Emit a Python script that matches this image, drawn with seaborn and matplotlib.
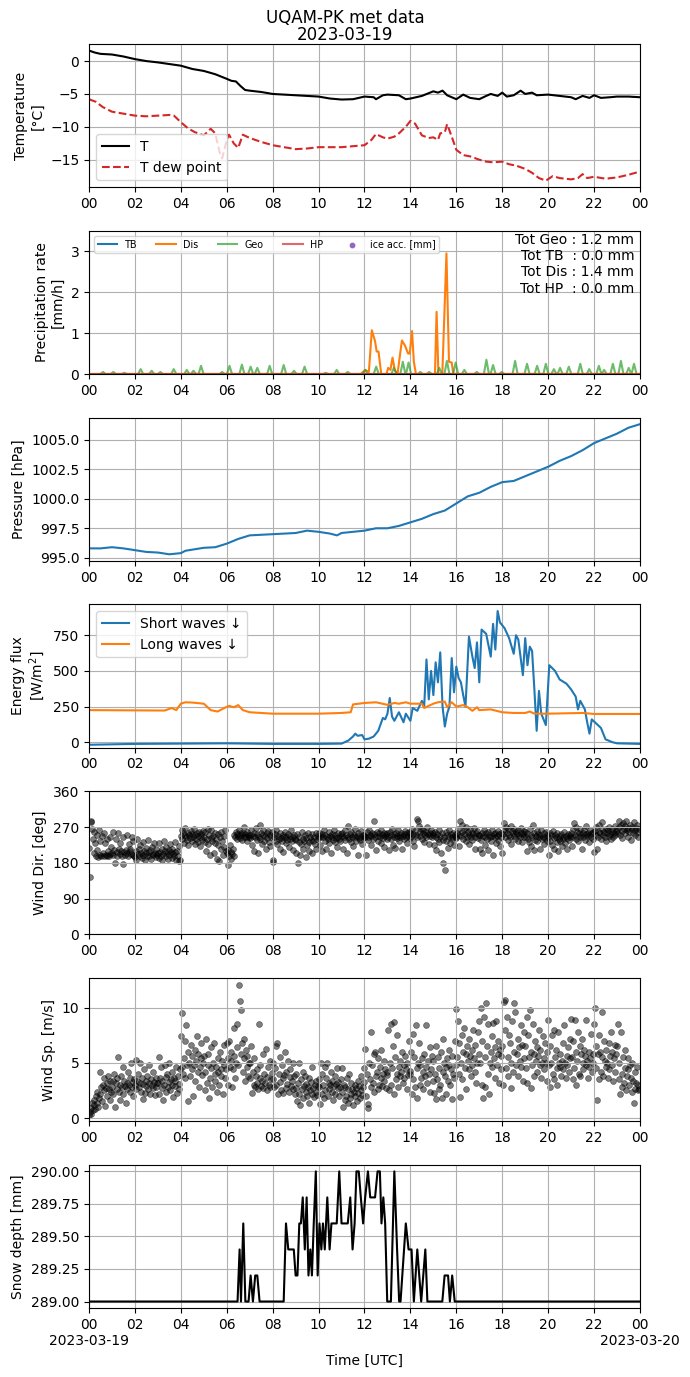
import numpy as np
import pandas as pd
import matplotlib
matplotlib.use('agg')
import matplotlib.pyplot as plt
import matplotlib.dates as mdates
from matplotlib.ticker import FuncFormatter
import seaborn as sns

DAY = pd.Timestamp('2023-03-19')

# --- temperature [degC] ---
t_hours = [0, 0.25, 0.5, 1, 1.5, 2, 2.5, 3, 3.5, 4, 4.5, 5, 5.5, 6, 6.2, 6.4, 6.6, 6.8, 7, 7.5,
           8, 9, 10, 10.5, 11, 11.5, 12, 12.4, 12.5, 12.8, 13, 13.5, 13.8, 14, 14.5, 15, 15.2,
           15.4, 15.6, 15.8, 16, 16.3, 16.6, 17, 17.3, 17.5, 17.8, 18, 18.2, 18.5, 18.8, 19,
           19.3, 19.5, 20, 20.5, 21, 21.2, 21.5, 21.8, 22, 22.3, 22.7, 23, 23.5, 24]
t_air = [1.6, 1.3, 1.1, 1.0, 0.7, 0.3, 0.0, -0.2, -0.45, -0.7, -1.2, -1.5, -2.0, -2.7, -3.0,
         -3.1, -3.8, -4.4, -4.5, -4.7, -5.0, -5.2, -5.4, -5.7, -5.85, -5.8, -5.4, -5.5, -5.8,
         -5.2, -5.1, -5.2, -5.8, -5.7, -5.3, -4.6, -4.8, -4.5, -5.2, -5.5, -5.8, -5.1, -5.6,
         -5.8, -5.3, -5.0, -5.3, -4.8, -5.4, -5.2, -4.5, -5.0, -4.8, -5.2, -5.1, -5.3, -5.5,
         -5.8, -5.3, -5.6, -5.2, -5.6, -5.5, -5.4, -5.4, -5.5]
td_hours = [0, 0.3, 0.6, 1, 1.5, 2, 2.5, 3, 3.5, 3.7, 4, 4.3, 4.6, 5, 5.3, 5.5, 5.7, 5.8, 6,
            6.1, 6.3, 6.5, 6.7, 7, 7.5, 8, 8.5, 9, 9.5, 10, 11, 12, 12.3, 12.5, 12.8, 13, 13.3,
            13.5, 13.8, 14, 14.2, 14.5, 14.8, 15, 15.2, 15.3, 15.5, 15.6, 15.8, 16, 16.3, 16.6,
            17, 17.3, 17.6, 18, 18.3, 18.6, 19, 19.3, 19.6, 19.9, 20.2, 20.5, 21, 21.3, 21.5,
            21.7, 22, 22.5, 23, 23.5, 24]
t_dew = [-5.8, -6.2, -7.0, -7.7, -8.0, -8.3, -8.4, -8.3, -8.2, -8.3, -9.3, -10.2, -10.8, -11.3,
         -10.3, -11.0, -14.0, -14.8, -12.0, -11.2, -12.5, -13.2, -11.2, -11.7, -12.3, -12.8,
         -13.1, -13.4, -13.3, -13.1, -13.1, -12.8, -12.0, -11.1, -11.6, -11.8, -11.5, -11.0,
         -10.0, -9.1, -9.5, -11.3, -11.7, -11.6, -12.0, -11.0, -10.8, -9.6, -11.5, -13.5,
         -14.3, -14.5, -15.0, -15.3, -15.4, -15.3, -15.7, -15.9, -16.4, -17.0, -17.8, -18.2,
         -17.5, -17.8, -18.0, -17.8, -17.2, -17.8, -17.6, -17.9, -17.7, -17.3, -16.8]

# --- precipitation rate [mm/h] ---
dis_hours = [0, 11.84, 12.03, 12.19, 12.32, 12.46, 12.53, 12.61, 12.73, 12.96, 13.03, 13.13,
             13.22, 13.32, 13.44, 13.53, 13.63, 13.76, 13.9, 13.97, 14.07, 14.15, 14.24, 15.07,
             15.14, 15.22, 15.39, 15.57, 15.68, 15.8, 15.87, 24]
dis_rate = [0, 0, 0.1, 0.05, 1.07, 0.8, 0.55, 0.55, 0, 0, 0.15, 0.1, 0.4, 0.1, 0, 0.4, 0.82,
            0.7, 0.5, 0.5, 1.05, 0.3, 0, 0, 1.52, 0, 0, 2.95, 0.3, 0.28, 0, 0]
geo_peak_hours = [0.61, 1.06, 1.54, 2.25, 2.73, 3.11, 3.69, 4.26, 4.55, 4.88, 5.8, 6.12, 6.66,
                  7.04, 7.33, 7.87, 8.48, 8.93, 9.39, 10.31, 10.79, 11.27, 12.03, 12.51, 13.28,
                  13.67, 13.92, 14.43, 14.82, 15.26, 15.59, 15.97, 16.35, 16.89, 17.31, 17.6,
                  17.98, 18.56, 19.08, 19.52, 19.9, 20.25, 20.52, 20.9, 21.4, 21.79, 22.21,
                  22.44, 22.82, 23.17, 23.51, 23.74]
geo_peak_rate = [0.05, 0.05, 0.03, 0.12, 0.08, 0.05, 0.12, 0.10, 0.08, 0.2, 0.05, 0.2, 0.23,
                 0.18, 0.15, 0.2, 0.22, 0.08, 0.18, 0.03, 0.1, 0.05, 0.1, 0.18, 0.15, 0.3, 0.28,
                 0.05, 0.05, 0.15, 0.32, 0.28, 0.1, 0.05, 0.35, 0.22, 0.05, 0.32, 0.25, 0.2,
                 0.25, 0.12, 0.15, 0.18, 0.25, 0.12, 0.2, 0.1, 0.25, 0.32, 0.15, 0.25]
tot_text = "Tot Geo : 1.2 mm\nTot TB  : 0.0 mm\nTot Dis : 1.4 mm\nTot HP  : 0.0 mm"

# --- pressure [hPa] ---
p_hours = [0, 0.5, 1, 1.5, 2, 2.5, 3, 3.5, 4, 4.2, 5, 5.5, 6, 6.5, 7, 8, 9, 9.5, 10, 10.5,
           10.8, 11, 12, 12.5, 13, 13.5, 14, 14.5, 15, 15.5, 16, 16.5, 17, 17.5, 18, 18.5, 19,
           19.5, 20, 20.5, 21, 21.5, 22, 22.5, 23, 23.5, 24]
pressure = [995.8, 995.8, 995.9, 995.8, 995.65, 995.5, 995.45, 995.3, 995.4, 995.6, 995.85,
            995.9, 996.2, 996.6, 996.9, 997.0, 997.1, 997.3, 997.2, 997.05, 996.9, 997.1,
            997.3, 997.5, 997.5, 997.7, 998.0, 998.3, 998.7, 999.0, 999.6, 1000.2, 1000.5,
            1001.0, 1001.4, 1001.5, 1001.9, 1002.3, 1002.7, 1003.2, 1003.6, 1004.1, 1004.7,
            1005.1, 1005.5, 1006.0, 1006.3]

# --- radiation [W/m2] ---
sw_hours = [0, 2, 4, 6, 8, 10, 11, 11.3, 11.5, 11.6, 11.7, 11.9, 12, 12.2, 12.4, 12.6, 12.8,
            12.9, 13, 13.1, 13.2, 13.3, 13.5, 13.7, 13.8, 14, 14.1, 14.3, 14.5, 14.6, 14.7,
            14.8, 14.9, 15.0, 15.1, 15.2, 15.3, 15.4, 15.5, 15.6, 15.7, 15.8, 15.9, 16.0, 16.1,
            16.2, 16.3, 16.4, 16.55, 16.7, 16.8, 16.9, 17.0, 17.1, 17.3, 17.5, 17.6, 17.7,
            17.8, 17.9, 18.1, 18.3, 18.5, 18.6, 18.7, 18.9, 19.0, 19.1, 19.2, 19.3, 19.4, 19.5,
            19.6, 19.7, 19.9, 20.05, 20.3, 20.5, 20.8, 21.0, 21.2, 21.3, 21.4, 21.6, 21.7,
            21.8, 21.9, 22.1, 22.3, 22.5, 22.8, 23, 24]
sw_down = [-18, -12, -10, -8, -12, -12, -10, 12, 40, 60, 45, 50, 20, 25, 40, 80, 170, 160, 200,
           310, 180, 150, 210, 140, 200, 150, 240, 220, 290, 250, 580, 300, 500, 330, 560, 420,
           630, 250, 110, 200, 250, 590, 350, 530, 450, 420, 330, 250, 740, 600, 520, 700, 420,
           790, 760, 600, 830, 650, 920, 840, 800, 730, 620, 750, 720, 470, 730, 540, 670, 640,
           370, 80, 360, 200, 120, 540, 500, 440, 410, 370, 320, 230, 290, 230, 140, 60, 160,
           130, 100, 20, 0, -8, -12]
lw_hours = [0, 3.3, 3.6, 3.8, 4.0, 4.2, 4.5, 5, 5.3, 5.6, 5.9, 6.1, 6.3, 6.5, 6.7, 7, 8, 10,
            11, 11.4, 11.5, 12, 12.5, 13, 13.3, 13.5, 13.8, 14, 14.5, 14.6, 15, 15.2, 15.5,
            15.6, 15.8, 16, 16.3, 16.5, 16.7, 16.9, 17, 17.5, 18, 18.5, 19, 19.2, 19.4, 20,
            21.5, 22, 24]
lw_down = [225, 222, 240, 225, 270, 280, 278, 270, 225, 215, 240, 255, 245, 260, 225, 210, 200,
           200, 205, 210, 265, 275, 280, 262, 275, 270, 280, 270, 270, 240, 270, 280, 285, 245,
           280, 250, 260, 245, 220, 245, 225, 230, 210, 205, 205, 215, 200, 200, 205, 198, 198]

# --- wind, one row per hour, one sample every 2 min ---
wind_dir = [
    [218, 145, 282, 286, 265, 240, 205, 258, 230, 198, 250, 212, 195, 262, 200, 235, 196, 248, 205, 198, 255, 230, 200, 196, 240, 210, 198, 245, 203, 220],
    [205, 258, 200, 212, 180, 240, 208, 198, 255, 215, 202, 230, 210, 196, 178, 245, 207, 200, 212, 250, 205, 198, 228, 210, 215, 202, 245, 200, 235, 198],
    [195, 210, 188, 240, 202, 215, 198, 225, 205, 192, 232, 200, 210, 186, 218, 204, 198, 238, 208, 196, 212, 190, 220, 203, 199, 230, 206, 194, 214, 200],
    [205, 192, 230, 208, 198, 215, 188, 202, 235, 210, 196, 220, 205, 190, 212, 200, 228, 207, 193, 215, 202, 197, 232, 208, 188, 210, 198, 184, 222, 186],
    [248, 262, 240, 255, 230, 250, 268, 245, 238, 256, 224, 250, 242, 260, 235, 252, 246, 265, 228, 250, 240, 255, 232, 248, 258, 222, 245, 252, 238, 260],
    [245, 232, 258, 210, 240, 266, 228, 250, 200, 242, 262, 235, 248, 205, 255, 230, 240, 190, 252, 226, 185, 244, 215, 258, 236, 200, 248, 220, 262, 210],
    [205, 175, 212, 198, 225, 190, 208, 202, 215, 196, 250, 245, 258, 240, 252, 248, 262, 243, 255, 250, 238, 256, 246, 270, 252, 244, 258, 236, 250, 246],
    [250, 242, 262, 225, 248, 256, 210, 244, 268, 238, 252, 205, 246, 276, 240, 255, 228, 250, 262, 236, 248, 215, 254, 242, 260, 232, 250, 222, 245, 258],
    [188, 182, 245, 252, 235, 262, 228, 248, 240, 215, 255, 242, 236, 250, 208, 246, 258, 230, 244, 238, 252, 220, 248, 240, 262, 234, 246, 212, 250, 240],
    [238, 205, 252, 180, 232, 246, 200, 228, 258, 240, 215, 236, 250, 195, 242, 225, 255, 232, 210, 246, 238, 252, 205, 234, 244, 228, 256, 215, 240, 248],
    [242, 255, 226, 248, 210, 252, 244, 262, 236, 250, 215, 246, 240, 258, 230, 248, 205, 252, 244, 238, 262, 232, 250, 242, 220, 256, 246, 240, 235, 252],
    [248, 256, 215, 244, 262, 238, 250, 205, 246, 272, 240, 252, 232, 258, 244, 222, 250, 246, 264, 236, 248, 200, 254, 242, 238, 260, 246, 228, 250, 244],
    [250, 244, 200, 258, 246, 238, 262, 250, 224, 248, 256, 240, 286, 252, 244, 212, 258, 248, 236, 254, 246, 262, 230, 250, 242, 256, 220, 248, 252, 240],
    [254, 246, 212, 258, 250, 240, 264, 226, 252, 246, 218, 256, 248, 242, 262, 234, 250, 246, 256, 215, 248, 252, 240, 260, 244, 230, 254, 248, 258, 242],
    [256, 248, 266, 236, 252, 222, 260, 250, 244, 290, 286, 272, 258, 248, 266, 240, 254, 262, 232, 250, 258, 246, 270, 252, 228, 256, 248, 262, 244, 254],
    [250, 226, 258, 244, 212, 252, 240, 262, 232, 248, 205, 254, 180, 238, 246, 162, 258, 236, 250, 218, 244, 262, 230, 252, 246, 240, 256, 224, 250, 244],
    [242, 256, 266, 222, 250, 285, 248, 276, 258, 240, 262, 252, 236, 270, 246, 258, 228, 250, 264, 244, 256, 238, 252, 268, 246, 216, 254, 260, 242, 250],
    [250, 216, 238, 256, 205, 248, 262, 244, 226, 254, 240, 258, 212, 250, 246, 234, 262, 248, 200, 252, 244, 256, 230, 248, 260, 238, 252, 222, 246, 254],
    [206, 252, 280, 262, 246, 270, 256, 238, 266, 250, 244, 272, 228, 260, 254, 248, 266, 240, 258, 252, 236, 262, 250, 246, 268, 256, 232, 252, 260, 244],
    [258, 246, 210, 254, 240, 232, 266, 222, 250, 246, 274, 212, 256, 238, 248, 260, 234, 252, 244, 215, 250, 262, 240, 246, 228, 254, 242, 258, 236, 250],
    [246, 200, 254, 236, 250, 226, 260, 242, 216, 250, 244, 232, 256, 210, 240, 248, 236, 252, 222, 246, 240, 258, 230, 248, 242, 214, 252, 238, 246, 250],
    [254, 222, 246, 266, 280, 250, 240, 270, 258, 236, 254, 246, 264, 250, 216, 256, 244, 262, 238, 252, 272, 248, 256, 232, 250, 262, 244, 254, 240, 258],
    [208, 260, 250, 270, 214, 246, 258, 276, 254, 240, 264, 282, 250, 258, 244, 266, 236, 254, 262, 248, 270, 252, 240, 258, 264, 246, 256, 272, 250, 260],
    [266, 254, 284, 270, 250, 276, 260, 242, 280, 266, 256, 272, 286, 262, 246, 268, 258, 274, 238, 264, 270, 256, 282, 262, 250, 268, 276, 258, 244, 266],
]
wind_sp = [
    [0.3, 0.5, 0.9, 0.4, 1.4, 0.7, 1.2, 1.6, 0.8, 2.0, 1.4, 2.4, 1.0, 1.8, 4.2, 2.2, 2.8, 1.5, 3.0, 2.5, 3.6, 1.1, 2.7, 3.2, 2.0, 3.8, 2.6, 1.6, 3.4, 2.4],
    [2.8, 3.4, 2.2, 4.0, 1.0, 3.2, 2.6, 3.6, 5.5, 2.4, 3.0, 1.6, 3.8, 2.8, 4.6, 2.2, 3.4, 2.9, 1.4, 3.2, 2.6, 4.2, 3.0, 2.4, 3.6, 5.0, 2.8, 3.3, 2.0, 3.5],
    [3.0, 5.3, 2.6, 3.4, 4.0, 2.8, 3.2, 5.0, 2.4, 3.6, 1.7, 3.1, 4.4, 2.3, 3.4, 2.9, 3.8, 2.6, 3.2, 4.8, 2.2, 3.5, 3.0, 2.7, 4.2, 3.3, 2.1, 3.6, 2.8, 3.2],
    [3.2, 5.5, 2.2, 3.6, 4.6, 2.7, 3.4, 1.6, 3.0, 4.8, 2.4, 3.7, 4.0, 2.8, 3.3, 5.0, 2.5, 3.5, 3.0, 4.2, 1.9, 3.6, 2.9, 3.4, 4.6, 2.3, 3.8, 3.1, 2.6, 4.4],
    [7.4, 4.6, 9.5, 4.0, 5.4, 7.0, 3.6, 8.4, 4.8, 1.5, 6.0, 5.0, 3.8, 6.6, 4.4, 5.6, 2.0, 4.8, 6.2, 3.4, 5.2, 7.4, 4.2, 5.8, 2.8, 4.6, 5.4, 6.8, 3.9, 5.0],
    [5.6, 2.5, 4.2, 7.2, 3.2, 4.8, 5.8, 1.8, 3.6, 6.4, 4.5, 2.8, 5.0, 6.8, 4.0, 3.4, 4.6, 2.4, 5.4, 4.2, 3.0, 6.0, 4.4, 3.8, 5.2, 2.2, 4.8, 6.6, 3.6, 4.4],
    [6.8, 5.4, 3.0, 7.0, 4.6, 5.2, 6.0, 2.8, 4.4, 5.6, 8.2, 3.6, 5.0, 6.4, 8.5, 4.8, 12.1, 10.6, 9.8, 5.8, 6.8, 4.2, 7.2, 5.4, 3.4, 6.2, 4.6, 5.6, 3.8, 5.0],
    [5.0, 3.6, 6.5, 2.3, 4.2, 3.0, 5.4, 2.8, 3.8, 4.4, 3.2, 2.6, 8.5, 3.6, 4.8, 2.9, 3.4, 5.8, 2.7, 4.0, 3.2, 6.3, 2.5, 3.7, 4.6, 3.0, 2.8, 5.2, 3.5, 4.1],
    [3.5, 5.0, 2.8, 4.5, 6.5, 3.0, 6.8, 2.2, 4.0, 5.5, 3.3, 2.5, 4.8, 3.6, 2.3, 3.9, 6.0, 2.7, 4.2, 3.1, 5.2, 2.4, 3.7, 4.4, 2.9, 3.4, 5.0, 2.6, 3.8, 2.2],
    [2.7, 4.0, 1.5, 3.2, 2.2, 5.0, 1.2, 3.5, 2.6, 4.2, 1.8, 2.9, 3.8, 2.4, 3.1, 2.0, 2.8, 3.6, 1.4, 2.5, 3.3, 2.2, 4.6, 2.7, 1.9, 3.0, 2.4, 3.4, 2.1, 2.9],
    [2.8, 3.5, 1.3, 5.0, 2.2, 4.0, 3.0, 1.8, 4.6, 2.5, 3.6, 5.0, 2.0, 3.2, 2.6, 3.0, 4.2, 2.4, 3.4, 1.6, 2.9, 3.8, 2.2, 3.1, 4.5, 2.7, 3.3, 2.0, 2.8, 3.5],
    [2.4, 4.5, 1.0, 3.0, 1.6, 2.8, 2.0, 3.6, 1.4, 2.6, 4.0, 1.8, 3.2, 2.2, 2.6, 1.2, 2.4, 3.0, 2.0, 2.7, 1.5, 3.4, 2.3, 2.9, 1.8, 2.5, 3.8, 2.1, 2.8, 3.3],
    [4.5, 6.3, 2.0, 4.0, 0.9, 1.3, 5.0, 3.5, 7.8, 2.8, 4.8, 3.2, 5.8, 2.4, 6.0, 3.8, 4.2, 2.6, 5.4, 3.0, 4.6, 3.6, 6.2, 2.9, 4.0, 5.2, 3.4, 4.4, 2.7, 3.9],
    [4.2, 8.0, 2.5, 5.0, 3.0, 8.5, 4.5, 6.5, 2.2, 8.7, 5.5, 3.5, 7.5, 4.0, 2.8, 4.6, 3.8, 5.2, 4.2, 6.0, 3.2, 4.8, 3.6, 5.6, 4.4, 2.6, 5.0, 3.9, 7.0, 4.3],
    [4.0, 6.0, 2.2, 7.6, 3.5, 5.5, 2.8, 8.4, 4.5, 1.8, 5.0, 6.8, 3.0, 4.8, 3.6, 5.4, 4.2, 2.6, 5.8, 3.8, 4.6, 8.4, 3.2, 5.2, 4.0, 6.4, 2.4, 4.4, 5.6, 3.4],
    [5.2, 2.3, 4.0, 6.5, 1.7, 3.5, 5.5, 2.6, 4.5, 3.0, 6.0, 1.8, 4.2, 7.2, 5.0, 3.8, 4.6, 2.2, 5.4, 3.4, 4.8, 6.2, 3.0, 4.4, 1.7, 5.6, 4.0, 3.6, 7.0, 4.8],
    [9.9, 5.5, 8.8, 4.0, 6.8, 1.9, 5.0, 7.5, 3.5, 6.0, 8.2, 4.5, 5.8, 2.6, 6.5, 5.2, 4.4, 7.2, 5.6, 3.8, 6.2, 4.8, 8.0, 5.4, 4.2, 6.6, 3.2, 5.0, 7.8, 5.8],
    [8.8, 5.0, 10.0, 3.0, 7.0, 1.8, 9.2, 5.5, 2.8, 10.4, 6.5, 4.0, 8.5, 2.2, 5.0, 6.0, 7.4, 4.6, 8.6, 5.4, 3.6, 6.4, 8.8, 4.8, 7.0, 5.8, 3.2, 6.2, 4.4, 5.6],
    [6.5, 3.0, 10.5, 10.7, 8.0, 4.5, 9.2, 5.5, 3.8, 7.5, 6.8, 2.7, 5.0, 8.8, 4.2, 10.4, 6.0, 9.6, 4.8, 5.8, 7.2, 3.8, 6.4, 5.2, 8.4, 4.6, 6.6, 3.4, 5.4, 7.8],
    [6.5, 4.5, 9.2, 3.2, 7.5, 5.5, 9.8, 2.7, 6.0, 4.8, 8.5, 5.8, 3.8, 7.0, 5.2, 6.4, 4.2, 5.6, 8.0, 4.8, 6.2, 3.6, 5.0, 7.4, 5.4, 4.4, 6.8, 5.0, 3.4, 6.0],
    [8.9, 4.8, 2.8, 6.5, 5.0, 7.5, 4.0, 8.0, 3.5, 5.5, 6.2, 4.5, 3.0, 7.8, 5.0, 4.6, 5.8, 3.8, 5.2, 6.8, 4.4, 8.4, 5.0, 3.6, 5.6, 4.8, 6.4, 4.2, 5.4, 7.2],
    [9.0, 5.5, 3.5, 7.0, 4.5, 8.9, 6.0, 3.0, 5.2, 7.8, 4.0, 6.5, 3.8, 5.8, 7.2, 5.0, 4.4, 6.2, 5.6, 4.8, 8.9, 5.2, 3.6, 6.0, 4.6, 5.4, 7.6, 4.2, 5.8, 5.0],
    [8.5, 10.0, 4.5, 6.5, 1.6, 5.8, 7.5, 3.5, 6.0, 4.2, 9.6, 5.5, 3.8, 7.0, 5.2, 4.6, 6.2, 5.0, 3.6, 6.8, 4.4, 5.6, 7.8, 4.8, 6.0, 3.4, 5.4, 6.6, 4.2, 5.8],
    [6.5, 8.5, 3.5, 5.0, 2.2, 7.8, 4.0, 2.8, 5.5, 3.2, 6.2, 4.5, 2.5, 3.8, 4.4, 5.4, 3.0, 4.8, 3.6, 2.4, 5.0, 3.4, 1.4, 4.2, 2.6, 3.2, 4.6, 2.5, 3.0, 2.6],
]

# --- snow depth [mm] ---
snow_hours = [0, 6.47, 6.56, 6.62, 6.72, 6.81, 6.95, 7.04, 7.14, 7.24, 7.33, 7.43, 8.48, 8.58,
              8.68, 8.92, 9.0, 9.08, 9.16, 9.23, 9.31, 9.4, 9.48, 9.56, 9.64, 9.71, 9.79, 9.88,
              9.96, 10.04, 10.12, 10.19, 10.27, 10.38, 10.48, 10.56, 10.69, 10.79, 10.9, 11.0,
              11.27, 11.38, 11.48, 11.57, 11.65, 11.75, 11.84, 11.94, 12.03, 12.15, 12.25,
              12.46, 12.57, 12.67, 12.74, 12.82, 12.9, 12.99, 13.15, 13.3, 13.42, 13.51, 13.57,
              13.8, 13.92, 14.05, 14.15, 14.3, 14.47, 14.65, 14.74, 15.39, 15.49, 15.64, 15.72,
              15.82, 15.93, 24]
snow_depth = [289.0, 289.0, 289.4, 289.0, 289.6, 289.0, 289.0, 289.2, 289.0, 289.2, 289.2,
              289.0, 289.0, 289.6, 289.4, 289.4, 289.2, 289.2, 289.6, 289.6, 289.8, 289.4,
              289.8, 289.2, 289.4, 289.2, 289.6, 290.0, 289.2, 289.6, 289.4, 289.6, 289.4,
              289.8, 289.4, 289.6, 289.6, 289.6, 290.0, 289.6, 289.6, 289.8, 289.4, 289.6,
              290.0, 290.0, 289.8, 289.6, 289.8, 290.0, 289.8, 289.8, 290.0, 290.0, 289.6,
              289.8, 289.6, 289.0, 289.0, 290.0, 289.4, 289.0, 289.0, 289.6, 289.4, 289.4,
              289.0, 289.4, 289.0, 289.4, 289.0, 289.0, 289.2, 289.2, 289.0, 289.2, 289.0,
              289.0]


def to_time(hours):
    return DAY + pd.to_timedelta(np.asarray(hours, dtype=float), unit='h')


def hourly_rows_to_series(rows):
    hrs, vals = [], []
    for h, row in enumerate(rows):
        step = 1.0 / len(row)
        for k, v in enumerate(row):
            hrs.append(h + k * step)
            vals.append(v)
    return to_time(hrs), np.array(vals)


# geo gauge: thin peaks on a zero baseline
geo_hours, geo_rate = [0.0], [0.0]
for h, v in zip(geo_peak_hours, geo_peak_rate):
    geo_hours += [h - 0.11, h, h + 0.11]
    geo_rate += [0.0, v, 0.0]
geo_hours.append(24.0)
geo_rate.append(0.0)

fig, axes = plt.subplots(7, 1, figsize=(6.9, 13.77), dpi=100)
plt.subplots_adjust(left=0.129, right=0.9275, top=0.968, bottom=0.0501, hspace=0.305)
fig.suptitle("UQAM-PK met data\n2023-03-19", y=0.9935, va='top', linespacing=0.95)

line_kw = dict(estimator=None, sort=False)
dot_kw = dict(color='k', alpha=0.5, s=18, edgecolor='k', linewidth=0.5)

ax = axes[0]
sns.lineplot(x=to_time(t_hours), y=t_air, color='k', label='T', ax=ax, **line_kw)
sns.lineplot(x=to_time(td_hours), y=t_dew, color='tab:red', linestyle='--', label='T dew point',
             ax=ax, **line_kw)
ax.legend(loc='lower left')
ax.set_ylabel("Temperature\n[°C]")

ax = axes[1]
zeros_t = to_time([0, 24])
sns.lineplot(x=zeros_t, y=[0, 0], color='tab:blue', label='TB', ax=ax, **line_kw)
sns.lineplot(x=to_time(dis_hours), y=dis_rate, color='tab:orange', label='Dis', ax=ax, **line_kw)
sns.lineplot(x=to_time(geo_hours), y=geo_rate, color='tab:green', alpha=0.7, label='Geo', ax=ax,
             **line_kw)
sns.lineplot(x=zeros_t, y=[0, 0], color='tab:red', alpha=0.7, label='HP', ax=ax, **line_kw)
ax.scatter([], [], color='tab:purple', s=10, label='ice acc. [mm]')
ax.legend(loc='upper left', ncol=5, fontsize='x-small')
ax.text(0.99, 0.985, tot_text, transform=ax.transAxes, ha='right', va='top', multialignment='right')
ax.set_ylim(0, 3.5)
ax.set_ylabel("Precipitation rate\n[mm/h]")

ax = axes[2]
sns.lineplot(x=to_time(p_hours), y=pressure, color='tab:blue', ax=ax, **line_kw)
ax.set_ylabel("Pressure [hPa]")

ax = axes[3]
sns.lineplot(x=to_time(sw_hours), y=sw_down, color='tab:blue', label='Short waves ↓', ax=ax,
             **line_kw)
sns.lineplot(x=to_time(lw_hours), y=lw_down, color='tab:orange', label='Long waves ↓', ax=ax,
             **line_kw)
ax.legend(loc='upper left')
ax.set_ylim(-38, 966)
ax.set_ylabel("Energy flux\n[W/m$^2$]")

ax = axes[4]
wd_t, wd_v = hourly_rows_to_series(wind_dir)
sns.scatterplot(x=wd_t, y=wd_v, ax=ax, **dot_kw)
ax.set_ylim(0, 360)
ax.set_yticks([0, 90, 180, 270, 360])
ax.set_ylabel("Wind Dir. [deg]")

ax = axes[5]
ws_t, ws_v = hourly_rows_to_series(wind_sp)
sns.scatterplot(x=ws_t, y=ws_v, ax=ax, **dot_kw)
ax.set_ylabel("Wind Sp. [m/s]")

ax = axes[6]
sns.lineplot(x=to_time(snow_hours), y=snow_depth, color='k', ax=ax, **line_kw)
ax.set_ylabel("Snow depth [mm]")
ax.set_yticks([289.0, 289.25, 289.5, 289.75, 290.0])
ax.yaxis.set_major_formatter(FuncFormatter(lambda v, p: f"{v:.2f}"))


def bottom_label(x, pos):
    d = mdates.num2date(x)
    if d.hour == 0:
        return d.strftime('%H\n%Y-%m-%d')
    return d.strftime('%H')


for i, ax in enumerate(axes):
    ax.set_xlim(DAY, DAY + pd.Timedelta(hours=24))
    ax.xaxis.set_major_locator(mdates.HourLocator(byhour=range(0, 24, 2)))
    if i == len(axes) - 1:
        ax.xaxis.set_major_formatter(FuncFormatter(bottom_label))
        ax.set_xlabel("Time [UTC]")
    else:
        ax.xaxis.set_major_formatter(mdates.DateFormatter('%H'))
        ax.set_xlabel("")
    ax.grid(True)

fig.savefig("out.png", dpi=100)
